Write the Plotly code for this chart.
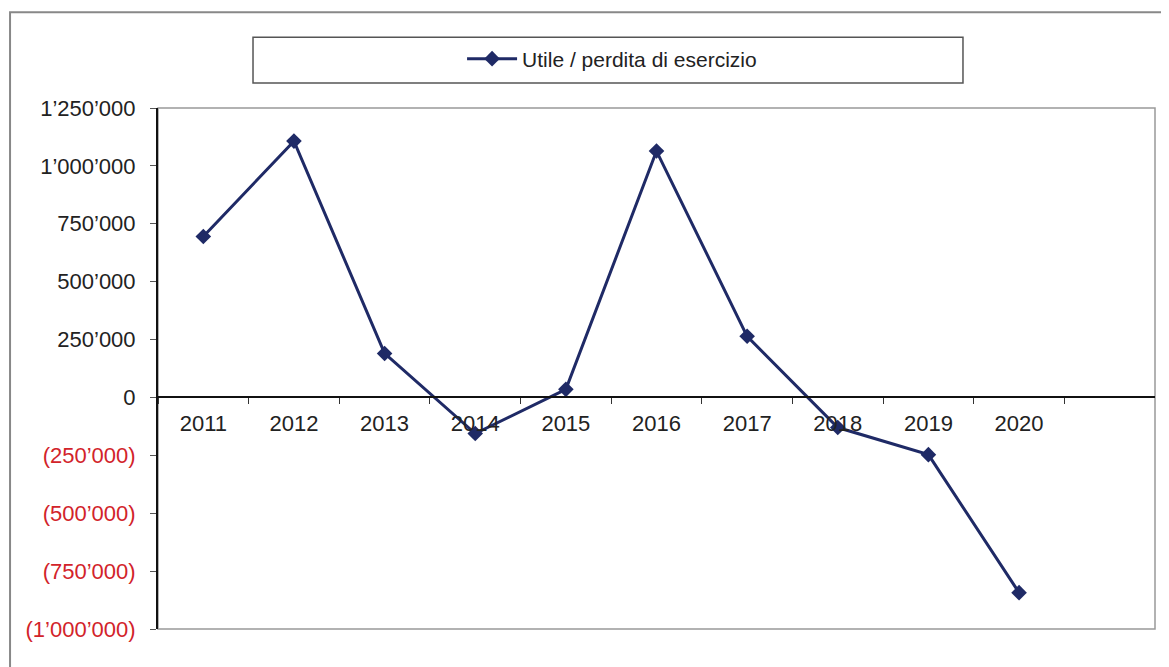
import plotly.graph_objects as go

years = ["2011", "2012", "2013", "2014", "2015", "2016", "2017", "2018", "2019", "2020"]
utile = [695000, 1107000, 190000, -156000, 35000, 1064000, 264000, -130000, -247000, -843000]

tick_vals = [1250000, 1000000, 750000, 500000, 250000, 0, -250000, -500000, -750000, -1000000]
tick_text = ["1’250’000", "1’000’000", "750’000", "500’000", "250’000", "0",
             "<span style='color:#d2232a'>(250’000)</span>",
             "<span style='color:#d2232a'>(500’000)</span>",
             "<span style='color:#d2232a'>(750’000)</span>",
             "<span style='color:#d2232a'>(1’000’000)</span>"]

NAVY = "#1f2a66"
FONT = "Liberation Sans, Arial, sans-serif"
ymin, ymax = -1000000, 1250000

fig = go.Figure()
fig.add_trace(go.Scatter(
    x=years, y=utile, mode="lines+markers", name="Utile / perdita di esercizio",
    line=dict(color=NAVY, width=3),
    marker=dict(symbol="diamond", size=12, color=NAVY),
    xaxis="x2",
))

zero_pos = (0 - ymin) / (ymax - ymin)

# page body has an 8px default margin, so the figure is 8px smaller and shifted
fig.update_layout(
    width=1161, height=659,
    margin=dict(l=150, r=14, t=100, b=38, autoexpand=False),
    paper_bgcolor="white", plot_bgcolor="white",
    font=dict(family=FONT, size=22, color="#222222"),
    showlegend=True,
    legend=dict(
        xref="container", yref="container", x=0.5203, y=0.9226,
        xanchor="center", yanchor="middle",
        font=dict(size=21, color="#222222"), itemwidth=50,
        bgcolor="rgba(0,0,0,0)",
    ),
    xaxis=dict(
        type="category", categoryorder="array", categoryarray=years,
        range=[-0.5, 10.5], showticklabels=False, showline=False,
        showgrid=False, zeroline=False, ticks="",
    ),
    xaxis2=dict(
        type="category", categoryorder="array", categoryarray=years,
        range=[-0.5, 10.5], overlaying="x", anchor="free", position=zero_pos,
        showline=True, linecolor="#111111", linewidth=1.5,
        ticks="outside", tickson="boundaries", ticklen=6, tickcolor="#333333",
        showgrid=False, zeroline=False, tickangle=0, ticklabelstandoff=6,
        tickfont=dict(size=22, color="#222222"),
    ),
    yaxis=dict(
        range=[ymin, ymax], tickvals=tick_vals, ticktext=tick_text,
        showline=True, linecolor="#111111", linewidth=2,
        ticks="outside", ticklen=6, tickcolor="#555555",
        showgrid=False, zeroline=False, ticklabelstandoff=10,
        tickfont=dict(size=22, color="#222222"),
    ),
    shapes=[
        dict(type="rect", xref="paper", yref="paper", x0=0, x1=1, y0=0, y1=1,
             line=dict(color="#999999", width=1.5), layer="below"),
        dict(type="rect", xref="paper", yref="paper", x0=0.0953, x1=0.8074,
             y0=1.048, y1=1.136, line=dict(color="#555555", width=1.5)),
        dict(type="rect", xref="paper", yref="paper", x0=-0.1484, x1=1.013,
             y0=-0.2, y1=1.184, line=dict(color="#888888", width=2)),
    ],
)

fig.write_html("out.html")
